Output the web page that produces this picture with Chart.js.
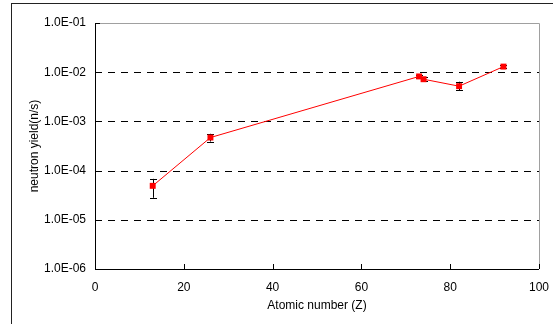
<!DOCTYPE html>
<html>
<head>
<meta charset="utf-8">
<script src="https://cdn.jsdelivr.net/npm/chart.js@4/dist/chart.umd.min.js"></script>
<style>
  html, body { margin: 0; padding: 0; background: #fff; }
  #wrap { width: 553px; height: 324px; }
</style>
</head>
<body>
<div id="wrap"><canvas id="yield_chart" width="553" height="324"></canvas></div>
<script>
// atomic number of each target and measured neutron yield
const atomic_z = [13, 26, 73, 74, 82, 92];
const yield_val = [4.9e-5, 4.7e-4, 8.2e-3, 7.2e-3, 5.2e-3, 1.3e-2];
const yield_lo = [2.8e-5, 3.9e-4, 7.6e-3, 6.7e-3, 4.3e-3, 1.2e-2];
const yield_hi = [6.8e-5, 5.6e-4, 8.9e-3, 7.9e-3, 6.4e-3, 1.4e-2];
const y_ticks = [1e-6, 1e-5, 1e-4, 1e-3, 1e-2, 1e-1];

const fmtExp = (v) => {
  const e = Math.round(Math.log10(v));
  const m = (v / Math.pow(10, e)).toFixed(1);
  const s = e < 0 ? '-' : '+';
  return m + 'E' + s + String(Math.abs(e)).padStart(2, '0');
};

const frame_plugin = {
  id: 'frame',
  beforeDatasetsDraw(chart) {
    const ctx = chart.ctx;
    const a = chart.chartArea;
    const xs = chart.scales.x, ys = chart.scales.y;
    ctx.save();
    // outer frame (right and bottom edges fall outside the picture)
    ctx.strokeStyle = '#222';
    ctx.lineWidth = 1;
    ctx.strokeRect(11.5, 3.5, 560, 340);
    // dashed grid lines
    ctx.strokeStyle = '#000';
    ctx.setLineDash([7, 6]);
    y_ticks.slice(1, -1).forEach(v => {
      const py = Math.round(ys.getPixelForValue(v)) + 0.5;
      ctx.beginPath(); ctx.moveTo(a.left, py); ctx.lineTo(a.right, py); ctx.stroke();
    });
    ctx.setLineDash([]);
    // plot area border top/right
    ctx.strokeStyle = '#a0a0a0';
    ctx.beginPath();
    ctx.moveTo(a.left, Math.round(a.top) + 0.5);
    ctx.lineTo(Math.round(a.right) + 0.5, Math.round(a.top) + 0.5);
    ctx.lineTo(Math.round(a.right) + 0.5, a.bottom);
    ctx.stroke();
    // axes
    ctx.strokeStyle = '#000';
    ctx.beginPath();
    ctx.moveTo(Math.round(a.left) + 0.5, a.top);
    ctx.lineTo(Math.round(a.left) + 0.5, Math.round(a.bottom) + 0.5);
    ctx.lineTo(a.right, Math.round(a.bottom) + 0.5);
    ctx.stroke();
    // inside tick marks
    ctx.beginPath();
    y_ticks.forEach(v => {
      const py = Math.round(ys.getPixelForValue(v)) + 0.5;
      ctx.moveTo(a.left, py); ctx.lineTo(a.left + 5, py);
    });
    xs.ticks.forEach(t => {
      const px = Math.round(xs.getPixelForValue(t.value)) + 0.5;
      ctx.moveTo(px, a.bottom); ctx.lineTo(px, a.bottom - 5);
    });
    ctx.stroke();
    // error bars
    ctx.strokeStyle = '#000';
    ctx.beginPath();
    atomic_z.forEach((z, i) => {
      const px = Math.round(xs.getPixelForValue(z)) + 0.5;
      const top = ys.getPixelForValue(yield_hi[i]);
      const bot = ys.getPixelForValue(yield_lo[i]);
      ctx.moveTo(px, top); ctx.lineTo(px, bot);
      ctx.moveTo(px - 3.5, Math.round(top) + 0.5); ctx.lineTo(px + 3.5, Math.round(top) + 0.5);
      ctx.moveTo(px - 3.5, Math.round(bot) + 0.5); ctx.lineTo(px + 3.5, Math.round(bot) + 0.5);
    });
    ctx.stroke();
    ctx.restore();
  }
};

const yield_chart = document.getElementById('yield_chart');
new Chart(yield_chart, {
  type: 'line',
  data: {
    datasets: [
      {
        label: 'yield',
        data: atomic_z.map((z, i) => ({x: z, y: yield_val[i]})),
        borderColor: '#ff0000',
        backgroundColor: '#ff0000',
        borderWidth: 1,
        pointStyle: 'rect',
        pointRadius: 4.2,
        pointBorderWidth: 0,
        tension: 0,
      },
    ]
  },
  options: {
    responsive: false,
    animation: false,
    events: [],
    layout: {padding: {left: 0, top: 23, right: 14, bottom: 0}},
    plugins: {
      legend: {display: false},
      tooltip: {enabled: false}
    },
    scales: {
      x: {
        type: 'linear',
        min: 0, max: 100,
        grid: {display: false, drawTicks: false},
        border: {display: false},
        ticks: {stepSize: 20, padding: 11, color: '#000', font: {family: 'Liberation Sans', size: 12}},
        title: {display: true, text: 'Atomic number (Z)', color: '#000',
                font: {family: 'Liberation Sans', size: 12}, padding: {top: 11, bottom: 11}},
        afterFit: (s) => { s.height = 55; s.paddingLeft = 0; s.paddingRight = 0; }
      },
      y: {
        type: 'logarithmic',
        min: 1e-6, max: 1e-1,
        grid: {display: false, drawTicks: false},
        border: {display: false},
        afterBuildTicks: (s) => { s.ticks = y_ticks.map(v => ({value: v})); },
        ticks: {padding: 9, color: '#000', font: {family: 'Liberation Sans', size: 12},
                callback: (v) => fmtExp(v)},
        title: {display: true, text: 'neutron yield(n/s)', color: '#000',
                font: {family: 'Liberation Sans', size: 12}, padding: {top: 27, bottom: 0}},
        afterFit: (s) => { s.width = 95; s.paddingTop = 0; s.paddingBottom = 0; }
      }
    }
  },
  plugins: [frame_plugin]
});
</script>
</body>
</html>
